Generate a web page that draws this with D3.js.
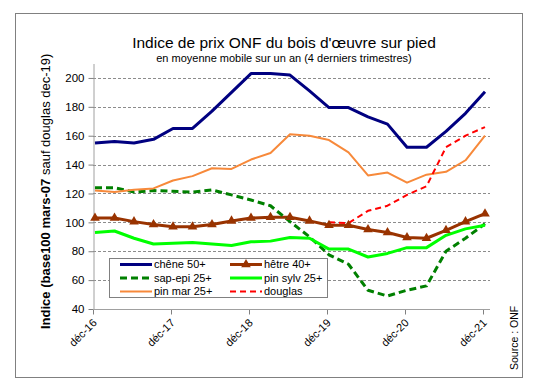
<!DOCTYPE html>
<html>
<head>
<meta charset="utf-8">
<script src="https://cdn.jsdelivr.net/npm/d3@7"></script>
<style>
  body { margin: 0; background: #fff; }
  text { font-family: "Liberation Sans", Arial, sans-serif; }
</style>
</head>
<body>
<div id="chart"></div>
<script>
// quarterly points, dec-16 .. dec-21
const quarters = ["déc-16","mars-17","juin-17","sept-17","déc-17","mars-18","juin-18","sept-18",
    "déc-18","mars-19","juin-19","sept-19","déc-19","mars-20","juin-20","sept-20",
    "déc-20","mars-21","juin-21","sept-21","déc-21"];
const tickLabels = ["déc-16","déc-17","déc-18","déc-19","déc-20","déc-21"];
const yTicks = [40, 60, 80, 100, 120, 140, 160, 180, 200];

const chene   = [155, 156, 155, 157.5, 165, 165, 177, 190, 203, 203, 202, 191, 179.5, 179.5, 173, 168, 152, 152, 163, 175.5, 190.5];
const hetre   = [103, 103, 100.5, 98.5, 97, 97, 98.5, 101, 103, 103.5, 103.5, 101, 98, 98, 95, 93, 89.5, 89, 94.5, 100.5, 106];
const sapEpi  = [124, 124, 121, 122, 121.5, 121, 122.5, 119, 115.5, 111.5, 100.5, 90, 77.5, 71, 53, 49, 53, 56, 80, 89, 99];
const pinSylv = [93, 94, 89, 85, 85.5, 86, 85, 84, 86.5, 87, 89.5, 89, 81.5, 81.5, 76, 78.5, 82.5, 82.5, 91, 95.5, 98];
const pinMar  = [122, 121, 122.5, 123.5, 129, 132, 137.5, 137, 143.5, 148, 161, 160, 157, 148.5, 132.5, 134.5, 127.5, 133, 135, 143, 160];
const douglas = [null, null, null, null, null, null, null, null, null, null, null, null, 100, 99.5, 108, 111.5, 119, 125, 152, 160, 166];

const series = [
    { name: "chêne 50+",   values: chene,   color: "#000080", width: 3, dash: null },
    { name: "hêtre 40+",   values: hetre,   color: "#993300", width: 3, dash: null, marker: true },
    { name: "sap-epi 25+", values: sapEpi,  color: "#008000", width: 3, dash: "7,4" },
    { name: "pin sylv 25+",values: pinSylv, color: "#00FF00", width: 3, dash: null },
    { name: "pin mar 25+", values: pinMar,  color: "#F7893A", width: 2, dash: null },
    { name: "douglas",     values: douglas, color: "#FF0000", width: 2, dash: "6,4" }
];

const width = 553, height = 383;
const plot = { left: 93, right: 490, top: 63.5, bottom: 309 };

const svg = d3.select("#chart").append("svg")
    .attr("width", width)
    .attr("height", height);

// outer frame
svg.append("rect")
    .attr("x", 15.5).attr("y", 13.5)
    .attr("width", 507).attr("height", 364)
    .attr("fill", "#fff")
    .attr("stroke", "#808080");

const x = d3.scalePoint()
    .domain(quarters)
    .range([95, 485]);

const y = d3.scaleLinear()
    .domain([40, 210])
    .range([plot.bottom, plot.top]);

// gridlines
svg.append("g")
    .selectAll("line")
    .data(yTicks.filter(d => d > 40))
    .enter().append("line")
        .attr("x1", plot.left).attr("x2", plot.right)
        .attr("y1", d => Math.round(y(d)) + 0.5)
        .attr("y2", d => Math.round(y(d)) + 0.5)
        .attr("stroke", "#8c8c8c")
        .attr("stroke-dasharray", "3,2");

// y axis
const yAxis = svg.append("g")
    .attr("transform", `translate(${plot.left + 0.5},0)`)
    .call(d3.axisLeft(y).tickValues(yTicks).tickSize(5).tickSizeOuter(0));
yAxis.select(".domain").attr("stroke", "#a0a0a0");
yAxis.selectAll(".tick line").attr("stroke", "#808080");
yAxis.selectAll(".tick text")
    .attr("font-size", 11.5)
    .attr("fill", "#000")
    .attr("x", -9)
    .attr("font-family", "Liberation Sans, Arial, sans-serif");

// x axis
const xAxis = svg.append("g")
    .attr("transform", `translate(0,${Math.round(plot.bottom) + 0.5})`)
    .call(d3.axisBottom(x).tickValues(tickLabels).tickSize(5).tickSizeOuter(0));
xAxis.select(".domain").remove();
xAxis.append("line")
    .attr("x1", plot.left).attr("x2", plot.right)
    .attr("stroke", "#a0a0a0");
xAxis.selectAll(".tick line").attr("stroke", "#808080").attr("transform", "translate(-2,0)");
xAxis.selectAll(".tick text")
    .attr("font-size", 11)
    .attr("fill", "#000")
    .attr("font-family", "Liberation Sans, Arial, sans-serif")
    .attr("text-anchor", "end")
    .attr("y", 0).attr("dy", 0)
    .attr("transform", "translate(2,14) rotate(-45)");

// lines
const line = d3.line()
    .defined(d => d != null)
    .x((d, i) => x(quarters[i]))
    .y(d => y(d));

series.forEach(s => {
    svg.append("path")
        .datum(s.values)
        .attr("fill", "none")
        .attr("stroke", s.color)
        .attr("stroke-width", s.width)
        .attr("stroke-dasharray", s.dash)
        .attr("stroke-linejoin", "round")
        .attr("d", line);
});

const tri = d3.symbol().type(d3.symbolTriangle).size(40);
svg.append("g")
    .selectAll("path")
    .data(hetre)
    .enter().append("path")
        .attr("d", tri)
        .attr("transform", (d, i) => `translate(${x(quarters[i])},${y(d)})`)
        .attr("fill", "#993300");

// legend
const legend = svg.append("g");
legend.append("rect")
    .attr("x", 109.5).attr("y", 258.5)
    .attr("width", 218).attr("height", 39)
    .attr("fill", "#fff")
    .attr("stroke", "#808080");

const item = legend.selectAll("g.item")
    .data(series)
    .enter().append("g")
        .attr("class", "item")
        .attr("transform", (d, i) => `translate(${i % 2 ? 230 : 120},${264.5 + Math.floor(i / 2) * 13.5})`);

item.append("line")
    .attr("x1", 0).attr("x2", 32)
    .attr("stroke", d => d.color)
    .attr("stroke-width", d => d.width)
    .attr("stroke-dasharray", d => d.dash);
item.filter(d => d.marker).append("path")
    .attr("d", tri)
    .attr("transform", "translate(16,0)")
    .attr("fill", "#993300");
item.append("text")
    .attr("x", 34)
    .attr("dy", "0.35em")
    .attr("font-size", 11)
    .text(d => d.name);

// titles
svg.append("text")
    .attr("x", 284).attr("y", 48)
    .attr("text-anchor", "middle")
    .attr("font-size", 15.5)
    .text("Indice de prix ONF du bois d'œuvre sur pied");
svg.append("text")
    .attr("x", 284).attr("y", 62)
    .attr("text-anchor", "middle")
    .attr("font-size", 11)
    .text("en moyenne mobile sur un an (4 derniers trimestres)");

const yTitle = svg.append("text")
    .attr("transform", "translate(50,329) rotate(-90)")
    .attr("font-size", 13);
yTitle.append("tspan").attr("font-weight", "bold").text("Indice (base100 mars-07");
yTitle.append("tspan").text(" sauf douglas dec-19)");

svg.append("text")
    .attr("transform", "translate(518,370) rotate(-90)")
    .attr("font-size", 10.5)
    .text("Source : ONF");
</script>
</body>
</html>
